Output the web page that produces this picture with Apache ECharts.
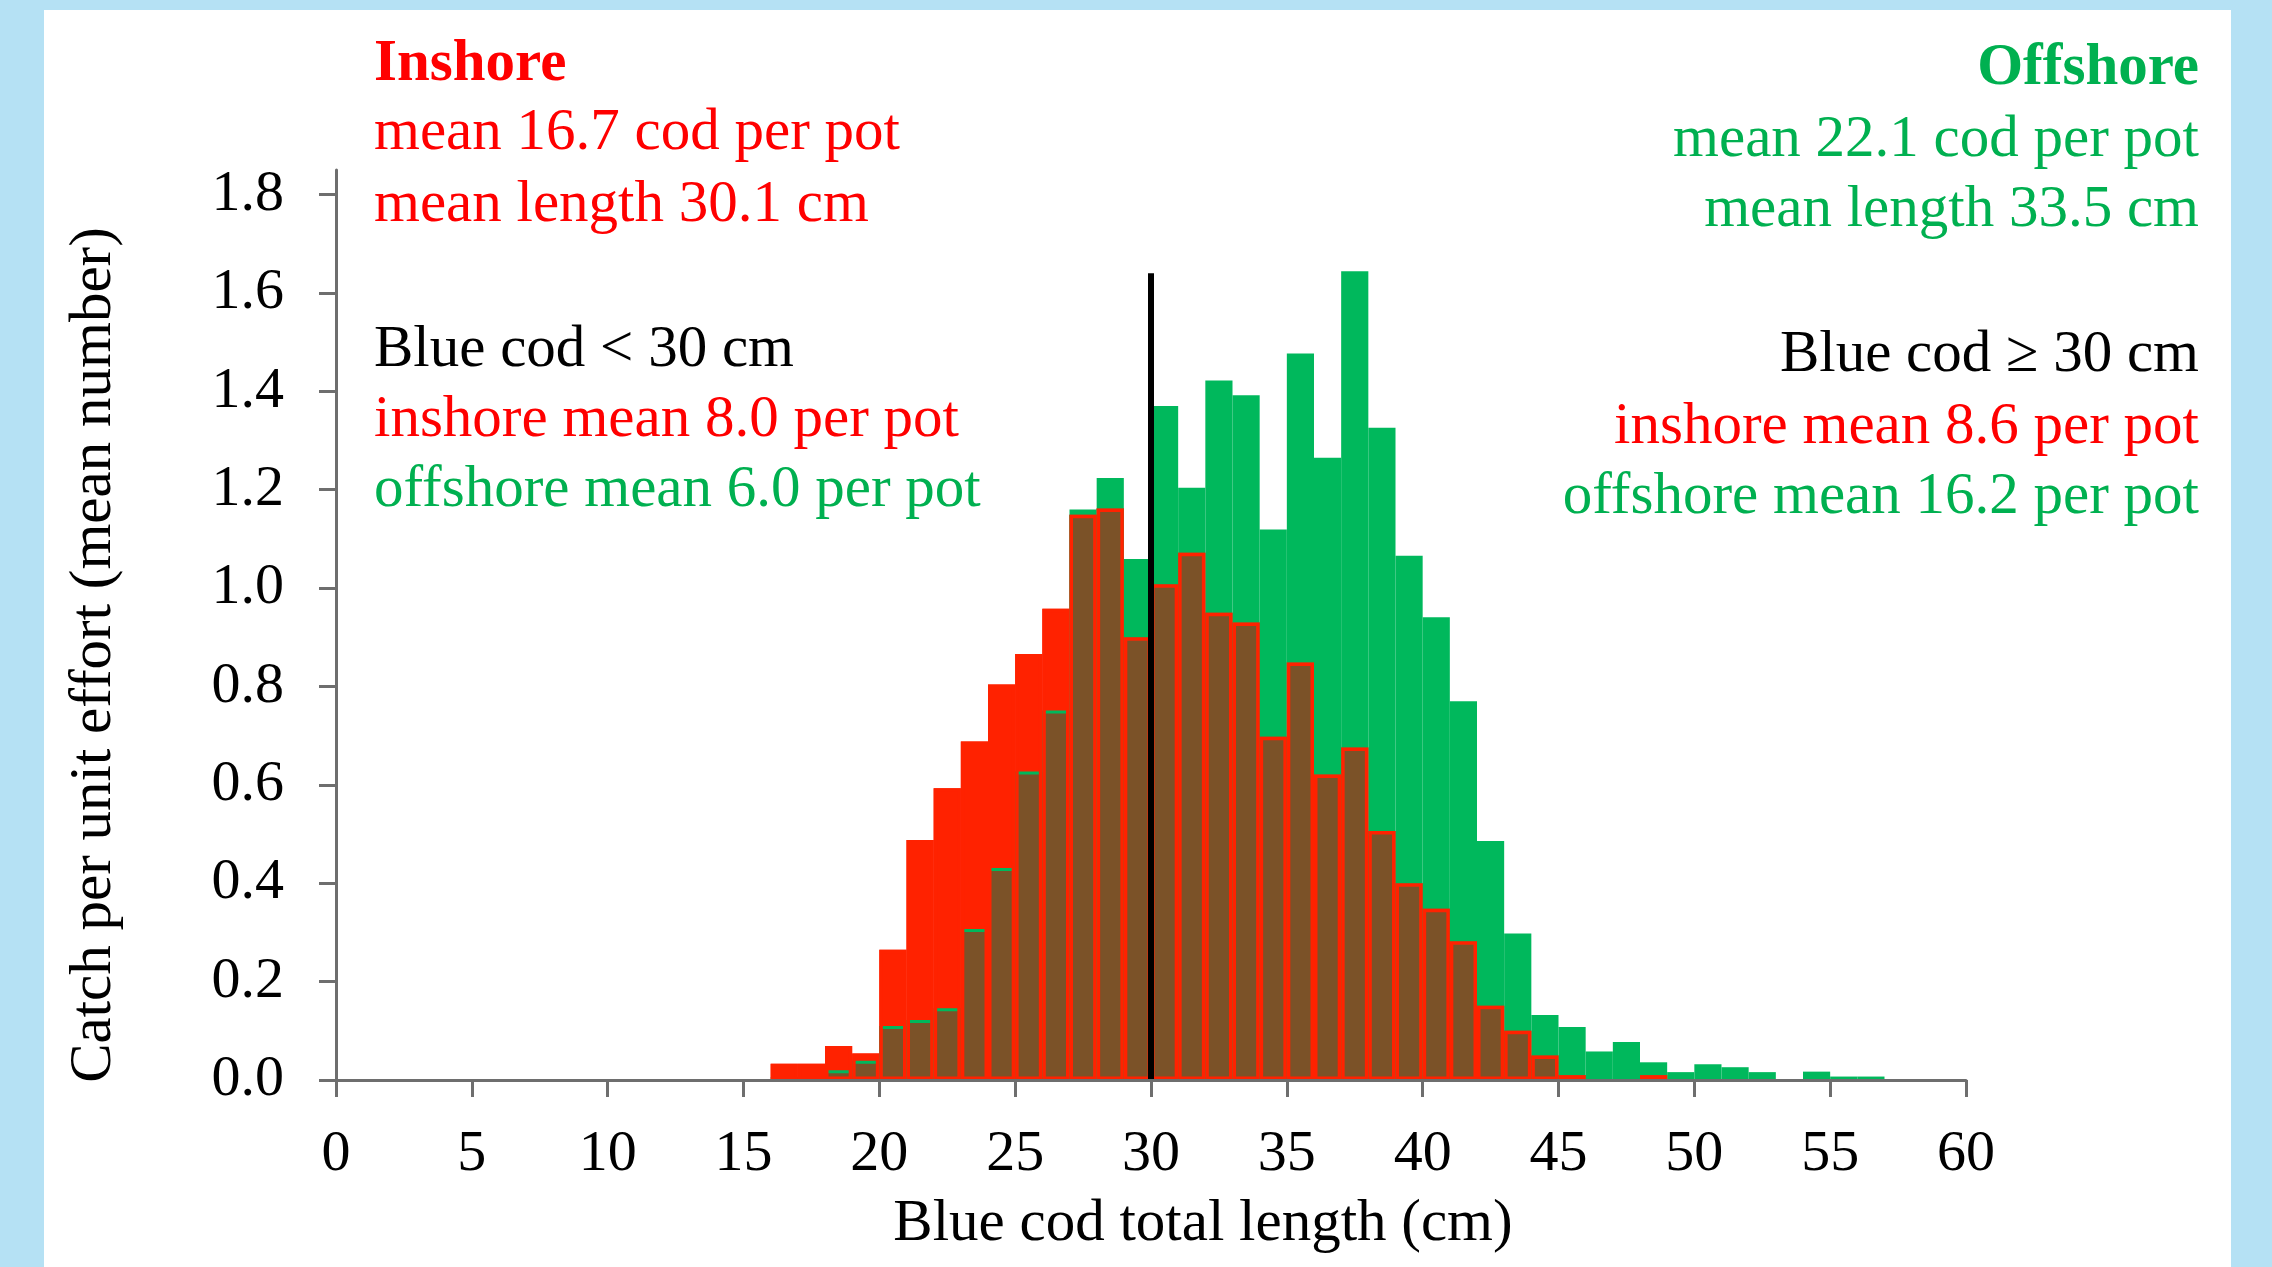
<!DOCTYPE html>
<html>
<head>
<meta charset="utf-8">
<title>Blue cod length frequency</title>
<script src="https://cdn.jsdelivr.net/npm/echarts@6/dist/echarts.min.js"></script>
<style>
  html, body { margin: 0; padding: 0; background: #b5e1f4; }
  #panel { position: absolute; left: 44px; top: 10px; width: 2187px; height: 1257px; background: #fff; }
  #chart { position: absolute; left: 0; top: 0; width: 2272px; height: 1267px; }
</style>
</head>
<body>
<div id="panel"></div>
<div id="chart"></div>
<script>
// 1 cm length bins, 0-59 (value = catch per pot in bin [i, i+1))
const bins = Array.from({ length: 60 }, (_, i) => String(i))

const inshore = [
  0, 0, 0, 0, 0, 0, 0, 0, 0, 0,
  0, 0, 0, 0, 0, 0, 0.033, 0.033, 0.069, 0.054,
  0.265, 0.488, 0.593, 0.688, 0.804, 0.866, 0.958, 1.149, 1.162, 0.900,
  1.008, 1.072, 0.950, 0.930, 0.698, 0.849, 0.621, 0.676, 0.506, 0.400,
  0.348, 0.282, 0.151, 0.100, 0.050, 0.010, 0, 0, 0.010, 0,
  0, 0, 0, 0, 0, 0, 0, 0, 0, 0
]

const offshore = [
  0, 0, 0, 0, 0, 0, 0, 0, 0, 0,
  0, 0, 0, 0, 0, 0, 0.006, 0.002, 0.020, 0.039,
  0.110, 0.122, 0.146, 0.307, 0.431, 0.627, 0.751, 1.160, 1.224, 1.059,
  1.370, 1.204, 1.422, 1.392, 1.119, 1.477, 1.265, 1.644, 1.326, 1.066,
  0.941, 0.770, 0.486, 0.298, 0.132, 0.108, 0.058, 0.077, 0.036, 0.016,
  0.032, 0.026, 0.016, 0.002, 0.017, 0.007, 0.007, 0, 0, 0
]

const yTicks = [0, 0.2, 0.4, 0.6, 0.8, 1.0, 1.2, 1.4, 1.6, 1.8]
const cutoffLength = 30
const cutoffTop = 1.64

const leftNotes = [
  { text: 'Inshore', color: '#ff0000', bold: true },
  { text: 'mean 16.7 cod per pot', color: '#ff0000' },
  { text: 'mean length 30.1 cm', color: '#ff0000' },
  { text: 'Blue cod < 30 cm', color: '#000000' },
  { text: 'inshore mean 8.0 per pot', color: '#ff0000' },
  { text: 'offshore mean 6.0 per pot', color: '#00b050' }
]
const rightNotes = [
  { text: 'Offshore', color: '#00b050', bold: true },
  { text: 'mean 22.1 cod per pot', color: '#00b050' },
  { text: 'mean length 33.5 cm', color: '#00b050' },
  { text: 'Blue cod \u2265 30 cm', color: '#000000' },
  { text: 'inshore mean 8.6 per pot', color: '#ff0000' },
  { text: 'offshore mean 16.2 per pot', color: '#00b050' }
]

const FONT = '"Liberation Serif", "Times New Roman", serif'
const RED = '#ff2200'
const GREEN = '#00b85c'
const BROWN = '#7b5228'

const orBlank = v => (v > 0 ? v : '-')
const overlap = inshore.map((v, i) => orBlank(Math.min(v, offshore[i])))

const leftY = [65, 133, 205, 350, 420, 490]
const rightY = [69, 140, 210, 355, 427, 497]

const noteGraphics = []
leftNotes.forEach((n, i) => {
  noteGraphics.push({
    type: 'text', x: 374, y: leftY[i],
    style: {
      text: n.text, fill: n.color, align: 'left', verticalAlign: 'middle',
      font: (n.bold ? 'bold ' : '') + '59px ' + FONT
    }
  })
})
rightNotes.forEach((n, i) => {
  noteGraphics.push({
    type: 'text', x: 2199, y: rightY[i],
    style: {
      text: n.text, fill: n.color, align: 'right', verticalAlign: 'middle',
      font: (n.bold ? 'bold ' : '') + '59px ' + FONT
    }
  })
})
// axis titles
noteGraphics.push({
  type: 'text', x: 1203, y: 1224,
  style: { text: 'Blue cod total length (cm)', fill: '#000', align: 'center', verticalAlign: 'middle', font: '59px ' + FONT }
})
noteGraphics.push({
  type: 'text', x: 94, y: 655, rotation: Math.PI / 2,
  style: { text: 'Catch per unit effort (mean number)', fill: '#000', align: 'center', verticalAlign: 'middle', font: '59px ' + FONT }
})

const axisLine = { lineStyle: { color: '#6e6e6e', width: 3 } }
const axisTick = { inside: false, length: 17, lineStyle: { color: '#6e6e6e', width: 3 } }

const chart = echarts.init(document.getElementById('chart'))
chart.setOption({
  animation: false,
  backgroundColor: 'transparent',
  grid: { left: 336, right: 306, top: 170, bottom: 187 },
  xAxis: [
    { type: 'category', data: bins, show: false, boundaryGap: true },
    {
      type: 'value', min: 0, max: 60, interval: 5, position: 'bottom', z: 10,
      splitLine: { show: false },
      axisLine: axisLine,
      axisTick: axisTick,
      axisLabel: { color: '#000', fontFamily: FONT, fontSize: 58, margin: 46 }
    }
  ],
  yAxis: {
    type: 'value', min: 0, max: 1.85, z: 10,
    splitLine: { show: false },
    axisLine: { show: true, lineStyle: axisLine.lineStyle },
    axisTick: Object.assign({ show: true, customValues: yTicks }, axisTick),
    axisLabel: {
      customValues: yTicks, color: '#000', fontFamily: FONT, fontSize: 58, margin: 52,
      formatter: v => v.toFixed(1)
    }
  },
  graphic: noteGraphics,
  series: [
    {
      name: 'Offshore', type: 'bar', xAxisIndex: 0, barGap: '-100%', barCategoryGap: '0%',
      data: offshore.map(orBlank),
      itemStyle: { color: GREEN }
    },
    {
      name: 'Inshore', type: 'bar', xAxisIndex: 0, barGap: '-100%', barCategoryGap: '0%',
      data: inshore.map(orBlank),
      itemStyle: { color: RED }
    },
    {
      name: 'Both', type: 'bar', xAxisIndex: 0, barGap: '-100%', barCategoryGap: '0%',
      data: overlap,
      itemStyle: { color: BROWN, borderColor: GREEN, borderWidth: 3 }
    },
    {
      name: 'Inshore outline', type: 'bar', xAxisIndex: 0, barGap: '-100%', barCategoryGap: '0%',
      data: inshore.map(orBlank),
      itemStyle: { color: 'transparent', borderColor: RED, borderWidth: 3.5 }
    },
    {
      name: '30 cm', type: 'line', xAxisIndex: 1, z: 5, symbol: 'none',
      data: [[cutoffLength, 0], [cutoffLength, cutoffTop]],
      lineStyle: { color: '#000', width: 6 }
    }
  ]
})
</script>
</body>
</html>
